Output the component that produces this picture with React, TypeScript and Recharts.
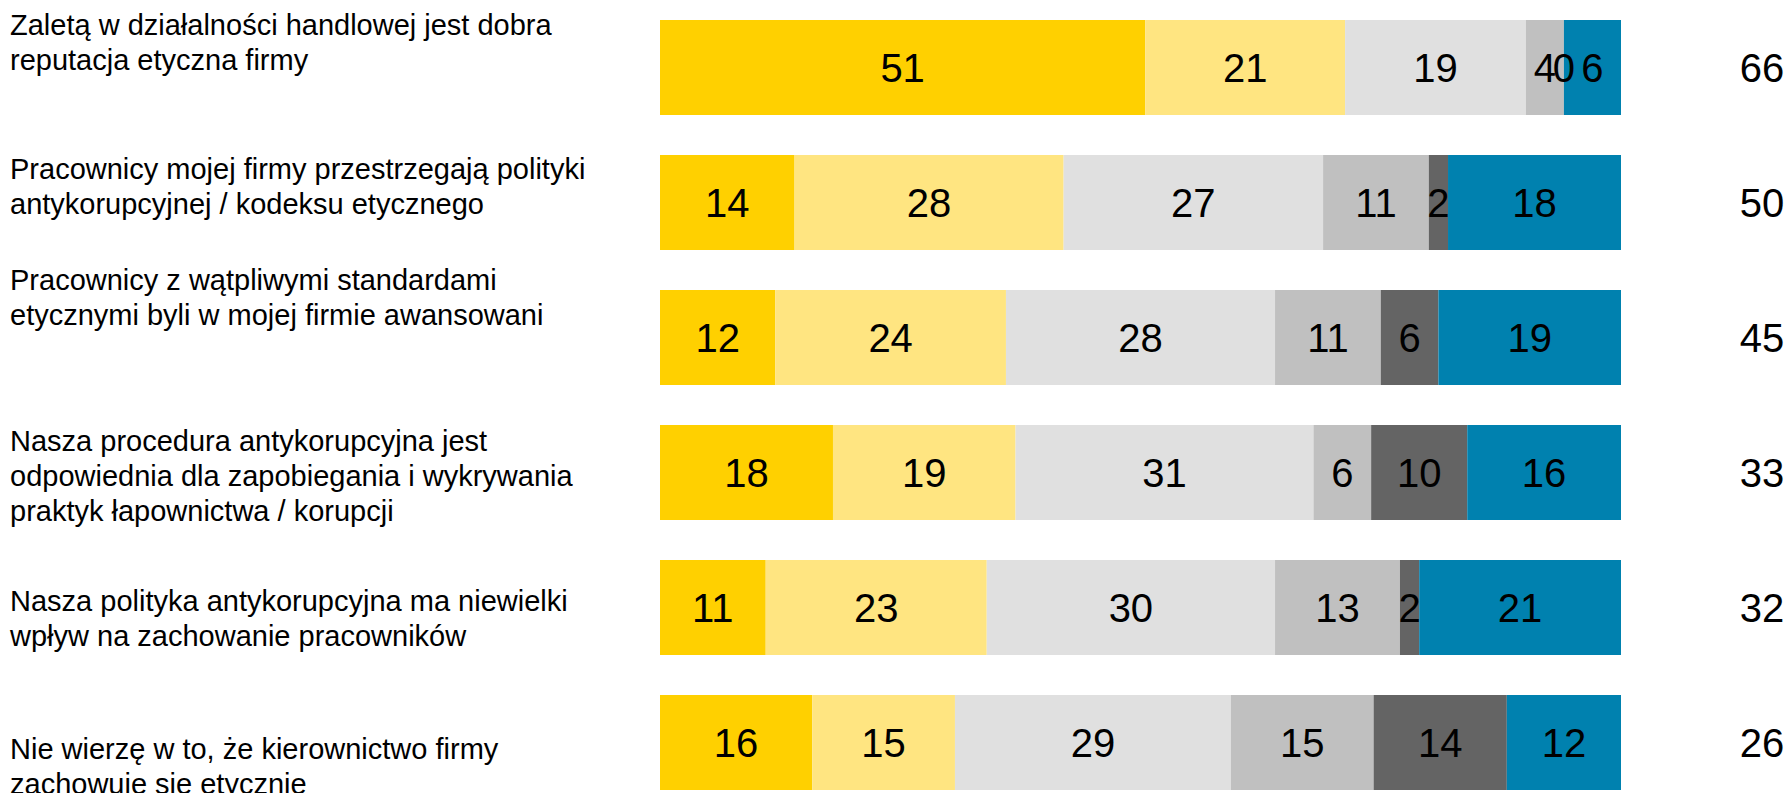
import { BarChart, Bar, XAxis, YAxis, LabelList } from 'recharts';

const CATEGORIES = [
  'Zaletą w działalności handlowej jest dobra\nreputacja etyczna firmy',
  'Pracownicy mojej firmy przestrzegają polityki\nantykorupcyjnej / kodeksu etycznego',
  'Pracownicy z wątpliwymi standardami\netycznymi byli w mojej firmie awansowani',
  'Nasza procedura antykorupcyjna jest\nodpowiednia dla zapobiegania i wykrywania\npraktyk łapownictwa / korupcji',
  'Nasza polityka antykorupcyjna ma niewielki\nwpływ na zachowanie pracowników',
  'Nie wierzę w to, że kierownictwo firmy\nzachowuje się etycznie',
];

const S1 = [51, 14, 12, 18, 11, 16];
const S2 = [21, 28, 24, 19, 23, 15];
const S3 = [19, 27, 28, 31, 30, 29];
const S4 = [4, 11, 11, 6, 13, 15];
const S5 = [0, 2, 6, 10, 2, 14];
const S6 = [6, 18, 19, 16, 21, 12];
const TOTALS = [66, 50, 45, 33, 32, 26];

const SERIES = [
  { key: 's1', color: '#FFD000' },
  { key: 's2', color: '#FFE581' },
  { key: 's3', color: '#E0E0E0' },
  { key: 's4', color: '#C0C0C0' },
  { key: 's5', color: '#646464' },
  { key: 's6', color: '#0081AF' },
];

// vertical nudge of each left label relative to its bar centre
const LABEL_SHIFT = [-25, -16, -40, 3, 11, 24];

const data = CATEGORIES.map((name, i) => ({
  name,
  s1: S1[i],
  s2: S2[i],
  s3: S3[i],
  s4: S4[i],
  s5: S5[i],
  s6: S6[i],
  total: TOTALS[i],
}));

const FONT = '"Liberation Sans", Arial, sans-serif';
const LINE_H = 35;
const VALUE_SIZE = 40;

function CategoryTick(props: any) {
  const { y, payload, index } = props;
  const lines: string[] = String(payload.value).split('\n');
  const cy = y + (LABEL_SHIFT[index] || 0);
  const first = cy - ((lines.length - 1) * LINE_H) / 2;
  return (
    <text x={10} y={first} fontFamily={FONT} fontSize={29} fill="#000" textAnchor="start">
      {lines.map((l, i) => (
        <tspan key={i} x={10} y={first + i * LINE_H} dy="0.35em">
          {l}
        </tspan>
      ))}
    </text>
  );
}

function ValueLabel(props: any) {
  const { x, y, width, height, value } = props;
  const w = Number(width) || 0;
  // zero-size segments get a 1px stub from minPointSize; centre the text on the boundary
  const cx = w <= 1 ? x : x + w / 2;
  return (
    <text
      x={cx}
      y={y + height / 2}
      dy="0.35em"
      textAnchor="middle"
      fontFamily={FONT}
      fontSize={VALUE_SIZE}
      fill="#000"
    >
      {value}
    </text>
  );
}

function TotalLabel(props: any) {
  const { x, y, width, height, value } = props;
  return (
    <text
      x={x + width + 141}
      y={y + height / 2}
      dy="0.35em"
      textAnchor="middle"
      fontFamily={FONT}
      fontSize={VALUE_SIZE}
      fill="#000"
    >
      {value}
    </text>
  );
}

export default function App() {
  return (
    <div style={{ position: 'absolute', left: 0, top: 0, width: 1785, height: 793, overflow: 'hidden', background: '#fff' }}>
      <BarChart
        width={1785}
        height={810}
        data={data}
        layout="vertical"
        stackOffset="expand"
        barGap={-95}
        margin={{ top: 0, right: 164, bottom: 0, left: 0 }}
      >
        <XAxis type="number" hide domain={[0, 1]} />
        <YAxis
          type="category"
          dataKey="name"
          width={660}
          axisLine={false}
          tickLine={false}
          tick={<CategoryTick />}
          interval={0}
        />
        {SERIES.map((s) => (
          <Bar key={s.key} dataKey={s.key} stackId="fill" fill={s.color} barSize={95} isAnimationActive={false} />
        ))}
        {/* transparent copy of the stack so every label sits above all segments */}
        {SERIES.map((s) => (
          <Bar
            key={s.key + '-lbl'}
            dataKey={s.key}
            stackId="labels"
            fill="transparent"
            barSize={95}
            minPointSize={1}
            isAnimationActive={false}
          >
            <LabelList dataKey={s.key} content={<ValueLabel />} />
            {s.key === 's6' && <LabelList dataKey="total" content={<TotalLabel />} />}
          </Bar>
        ))}
      </BarChart>
    </div>
  );
}
